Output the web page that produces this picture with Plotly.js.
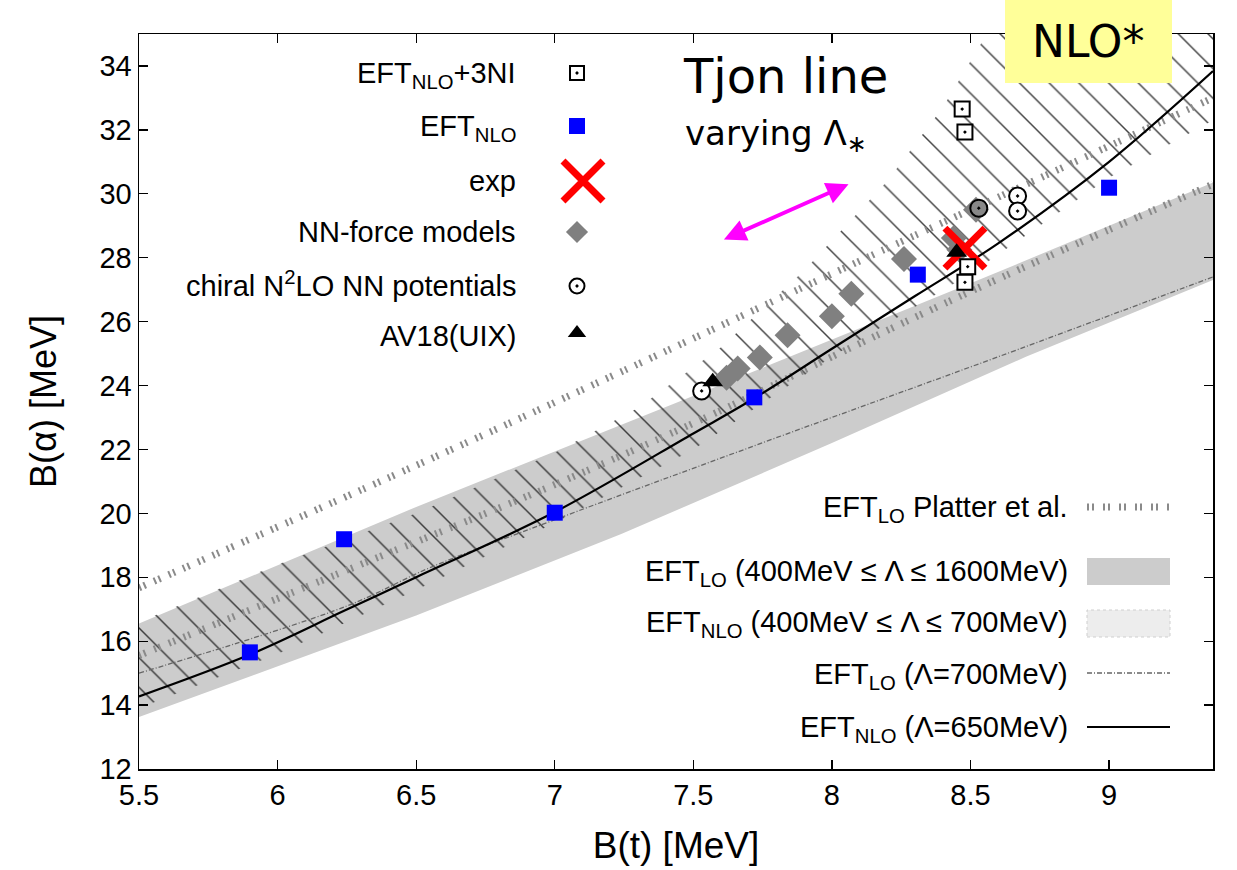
<!DOCTYPE html>
<html>
<head>
<meta charset="utf-8">
<script src="https://cdn.plot.ly/plotly-3.0.1.min.js"></script>
<style>html,body{margin:0;padding:0;background:#fff;}#chart{width:1237px;height:870px;}</style>
</head>
<body>
<div id="chart"></div>
<script>
// ---------- data ----------
const xTicks = [5.5, 6, 6.5, 7, 7.5, 8, 8.5, 9];
const yTicks = [12, 14, 16, 18, 20, 22, 24, 26, 28, 30, 32, 34];

// EFT_LO band (400MeV <= Lambda <= 1600MeV)
const loBandUpX = [5.5, 6.5, 7.45, 8.54, 9.375];
const loBandUpY = [16.55, 20.2, 23.5, 27.34, 30.35];
const loBandLoX = [5.5, 6.5, 7.24, 8.0, 8.7, 9.375];
const loBandLoY = [13.63, 16.8, 19.35, 22.2, 24.9, 27.3];

// EFT_NLO band (400MeV <= Lambda <= 700MeV)
const nloBandUpX = [5.5, 6.0, 6.5, 7.0, 7.3, 7.6, 7.9, 8.2, 8.4, 8.6, 9.375];
const nloBandUpY = [16.6, 18.4, 20.0, 21.9, 23.3, 25.2, 27.6, 30.4, 32.7, 35.6, 36.5];
const nloBandLoX = [5.5, 6.0, 6.5, 7.0, 7.5, 8.0, 8.5, 9.0, 9.375];
const nloBandLoY = [13.9, 15.6, 17.6, 19.7, 22.0, 24.9, 27.5, 30.5, 32.3];

// EFT_LO Platter et al. (two bounding lines)
const platterUpX = [5.5, 6.5, 7.24, 8.25, 8.74, 9.375];
const platterUpY = [17.67, 21.5, 24.43, 28.5, 30.45, 33.0];
const platterLoX = [5.5, 6.3, 7.0, 7.57, 8.0, 8.54, 9.375];
const platterLoY = [15.55, 18.4, 20.9, 23.1, 24.9, 27.1, 30.3];

// EFT_LO (Lambda = 700MeV)
const lo700X = [5.5, 6.25, 6.55, 7.0, 7.7, 8.6, 9.375];
const lo700Y = [15.0, 17.1, 18.3, 19.8, 22.05, 24.9, 27.4];

// EFT_NLO (Lambda = 650MeV)
const nlo650X = [5.5, 5.9, 6.24, 6.5, 7.0, 7.5, 7.72, 8.0, 8.3, 8.6, 9.0, 9.375];
const nlo650Y = [14.27, 15.58, 16.95, 18.0, 20.04, 22.5, 23.6, 25.15, 26.8, 28.45, 31.0, 33.84];

// points
const nloPtsX = [5.90, 6.24, 7.00, 7.72, 8.31, 9.00];
const nloPtsY = [15.65, 19.19, 20.02, 23.63, 27.47, 30.19];
const nlo3nX = [8.47, 8.48, 8.49, 8.48];
const nlo3nY = [32.65, 31.93, 27.72, 27.23];
const expX = [8.48];
const expY = [28.30];
const nnX = [7.62, 7.66, 7.74, 7.84, 8.00, 8.07, 8.26, 8.44, 8.46, 8.52];
const nnY = [24.24, 24.53, 24.88, 25.57, 26.17, 26.87, 27.96, 28.62, 28.25, 29.50];
const chiralX = [7.53, 8.53, 8.67, 8.67];
const chiralY = [23.83, 29.55, 29.93, 29.46];
const av18X = [7.57, 8.45];
const av18Y = [24.12, 28.17];

// ---------- helpers ----------
function band(ux, uy, lx, ly) {
  return { x: ux.concat(lx.slice().reverse()), y: uy.concat(ly.slice().reverse()) };
}
const FONT = 'Liberation Sans, Arial, sans-serif';

// plot area in pixels (for legend placement)
const PL = 139, PR = 1213, PT = 34, PB = 769;
const fx = px => (px - PL) / (PR - PL);
const fy = py => (PB - py) / (PB - PT);

const loBand = band(loBandUpX, loBandUpY, loBandLoX, loBandLoY);
const nloBand = band(nloBandUpX, nloBandUpY, nloBandLoX, nloBandLoY);

const platterStyle = { color: '#8a8a8a', width: 7, dash: '2px,3px,2px,9px' };

const traces = [
  { x: loBand.x, y: loBand.y, type: 'scatter', mode: 'lines', fill: 'toself',
    fillcolor: '#cccccc', line: { width: 0, color: 'rgba(0,0,0,0)' }, hoverinfo: 'skip' },
  { x: nloBand.x, y: nloBand.y, type: 'scatter', mode: 'lines', fill: 'toself',
    fillcolor: 'rgba(0,0,0,0)',
    fillpattern: { shape: '\\', size: 21, solidity: 0.07, fgcolor: '#222222', fgopacity: 0.85, bgcolor: 'rgba(0,0,0,0)' },
    line: { width: 0, color: 'rgba(0,0,0,0)' }, hoverinfo: 'skip' },
  { x: platterUpX, y: platterUpY, type: 'scatter', mode: 'lines', line: Object.assign({ shape: 'spline' }, platterStyle) },
  { x: platterLoX, y: platterLoY, type: 'scatter', mode: 'lines', line: Object.assign({ shape: 'spline' }, platterStyle) },
  { x: lo700X, y: lo700Y, type: 'scatter', mode: 'lines', line: { color: '#666666', width: 1.3, dash: '5px,2px,1px,2px', shape: 'spline' } },
  { x: nlo650X, y: nlo650Y, type: 'scatter', mode: 'lines', line: { color: '#000000', width: 2.2, shape: 'spline' } },
  { x: nnX, y: nnY, type: 'scatter', mode: 'markers', marker: { symbol: 'diamond', size: 20, color: '#808080' } },
  { x: expX, y: expY, type: 'scatter', mode: 'markers', marker: { symbol: 'x-thin', size: 40, line: { color: '#ff0000', width: 7 } } },
  { x: chiralX, y: chiralY, type: 'scatter', mode: 'markers',
    marker: { symbol: 'circle-dot', size: 17, color: ['#ffffff', '#888888', '#ffffff', '#ffffff'], line: { color: '#000000', width: 2 } } },
  { x: av18X, y: av18Y, type: 'scatter', mode: 'markers', marker: { symbol: 'triangle-up', size: 18, color: '#000000' } },
  { x: nlo3nX, y: nlo3nY, type: 'scatter', mode: 'markers',
    marker: { symbol: 'square-dot', size: 15, color: '#ffffff', line: { color: '#000000', width: 2 } } },
  { x: nloPtsX, y: nloPtsY, type: 'scatter', mode: 'markers', marker: { symbol: 'square', size: 16, color: '#0000ff' } }
];

// ---------- hand-made legends (overlay axis in plot-fraction units) ----------
const legMarkers = [
  { py: 73, m: { symbol: 'square-dot', size: 14, color: '#ffffff', line: { color: '#000', width: 2 } } },
  { py: 126, m: { symbol: 'square', size: 16, color: '#0000ff' } },
  { py: 181, m: { symbol: 'x-thin', size: 40, line: { color: '#ff0000', width: 7 } }, dx: 6 },
  { py: 232, m: { symbol: 'diamond', size: 17, color: '#808080' } },
  { py: 286, m: { symbol: 'circle-dot', size: 15, color: '#ffffff', line: { color: '#000', width: 2 } } },
  { py: 333, m: { symbol: 'triangle-up', size: 16, color: '#000000' } }
];
legMarkers.forEach(o => {
  traces.push({ x: [fx(577 + (o.dx || 0))], y: [fy(o.py)], xaxis: 'x2', yaxis: 'y2', type: 'scatter',
    mode: 'markers', marker: o.m, cliponaxis: false, hoverinfo: 'skip' });
});
const sx0 = fx(1087), sx1 = fx(1170);
traces.push({ x: [sx0, sx1], y: [fy(507), fy(507)], xaxis: 'x2', yaxis: 'y2', type: 'scatter', mode: 'lines', line: platterStyle, cliponaxis: false });
traces.push({ x: [sx0, sx1], y: [fy(673), fy(673)], xaxis: 'x2', yaxis: 'y2', type: 'scatter', mode: 'lines', line: { color: '#666', width: 1.3, dash: '5px,2px,1px,2px' }, cliponaxis: false });
traces.push({ x: [sx0, sx1], y: [fy(727), fy(727)], xaxis: 'x2', yaxis: 'y2', type: 'scatter', mode: 'lines', line: { color: '#000', width: 2.2 }, cliponaxis: false });

const shapes = [
  { type: 'rect', xref: 'paper', yref: 'paper', x0: sx0, x1: sx1, y0: fy(585), y1: fy(558), fillcolor: '#cccccc', line: { width: 0 } },
  { type: 'rect', xref: 'paper', yref: 'paper', x0: sx0, x1: sx1, y0: fy(637), y1: fy(610), fillcolor: 'rgba(215,215,215,0.45)', line: { width: 1, color: '#cfcfcf', dash: 'dot' } },
  // NLO* yellow box
  { type: 'rect', xref: 'paper', yref: 'paper', x0: fx(1005), x1: fx(1172), y0: fy(83), y1: fy(0), fillcolor: '#ffff99', line: { width: 0 }, layer: 'above' }
];

const legFont = { family: FONT, size: 29, color: '#000' };
function lab(text, px, py, anchor) {
  return { text: text, xref: 'paper', yref: 'paper', x: fx(px), y: fy(py), xanchor: anchor || 'right', yanchor: 'middle',
    showarrow: false, font: legFont };
}
const annotations = [
  lab('EFT<sub>NLO</sub>+3NI', 518, 75),
  lab('EFT<sub>NLO</sub>', 518, 128),
  lab('exp', 518, 181),
  lab('NN-force models', 518, 232),
  lab('chiral N<sup>2</sup>LO NN potentials', 518, 284),
  lab('AV18(UIX)', 518, 336),
  lab('EFT<sub>LO</sub> Platter et al.', 1070, 509),
  lab('EFT<sub>LO</sub> (400MeV ≤ Λ ≤ 1600MeV)', 1070, 573),
  lab('EFT<sub>NLO</sub> (400MeV ≤ Λ ≤ 700MeV)', 1070, 624),
  lab('EFT<sub>LO</sub> (Λ=700MeV)', 1070, 676),
  lab('EFT<sub>NLO</sub> (Λ=650MeV)', 1070, 729),
  { text: 'Tjon line', xref: 'paper', yref: 'paper', x: fx(681), y: fy(76), xanchor: 'left', yanchor: 'middle',
    showarrow: false, font: { family: 'DejaVu Sans, sans-serif', size: 48, color: '#000' } },
  { text: 'varying Λ<sub>∗</sub>', xref: 'paper', yref: 'paper', x: fx(683), y: fy(135), xanchor: 'left', yanchor: 'middle',
    showarrow: false, font: { family: 'DejaVu Sans, sans-serif', size: 34, color: '#000' } },
  { text: 'NLO*', xref: 'paper', yref: 'paper', x: fx(1088), y: fy(42), xanchor: 'center', yanchor: 'middle',
    showarrow: false, font: { family: 'DejaVu Sans, sans-serif', size: 44, color: '#000' } },
  // magenta double arrow
  { x: 8.06, y: 30.3, ax: 7.605, ay: 28.55, xref: 'x', yref: 'y', axref: 'x', ayref: 'y', text: '',
    showarrow: true, arrowhead: 2, startarrowhead: 2, arrowside: 'end+start', arrowsize: 1.1, startarrowsize: 1.1,
    arrowwidth: 4, arrowcolor: '#ff00ff' }
];

const axisCommon = {
  showgrid: false, zeroline: false, showline: true, linecolor: '#000', linewidth: 1.5, mirror: 'ticks',
  ticks: 'inside', ticklen: 9, tickwidth: 1.3, tickcolor: '#000',
  tickfont: { family: FONT, size: 29, color: '#000' }
};

const layout = {
  width: 1237, height: 870,
  margin: { l: PL, r: 1237 - PR, t: PT, b: 870 - PB, pad: 0 },
  paper_bgcolor: '#ffffff', plot_bgcolor: '#ffffff',
  showlegend: false,
  xaxis: Object.assign({}, axisCommon, {
    range: [5.5, 9.375], tickvals: xTicks, ticktext: xTicks.map(String),
    title: { text: 'B(t) [MeV]', font: { family: FONT, size: 37, color: '#000' }, standoff: 22 }
  }),
  yaxis: Object.assign({}, axisCommon, {
    range: [12, 35], tickvals: yTicks, ticktext: yTicks.map(String),
    title: { text: 'B(α) [MeV]', font: { family: FONT, size: 36, color: '#000' }, standoff: 32 }
  }),
  xaxis2: { overlaying: 'x', range: [0, 1], visible: false, fixedrange: true },
  yaxis2: { overlaying: 'y', range: [0, 1], visible: false, fixedrange: true },
  shapes: shapes,
  annotations: annotations
};

Plotly.newPlot('chart', traces, layout, { displayModeBar: false, staticPlot: true });
</script>
</body>
</html>
